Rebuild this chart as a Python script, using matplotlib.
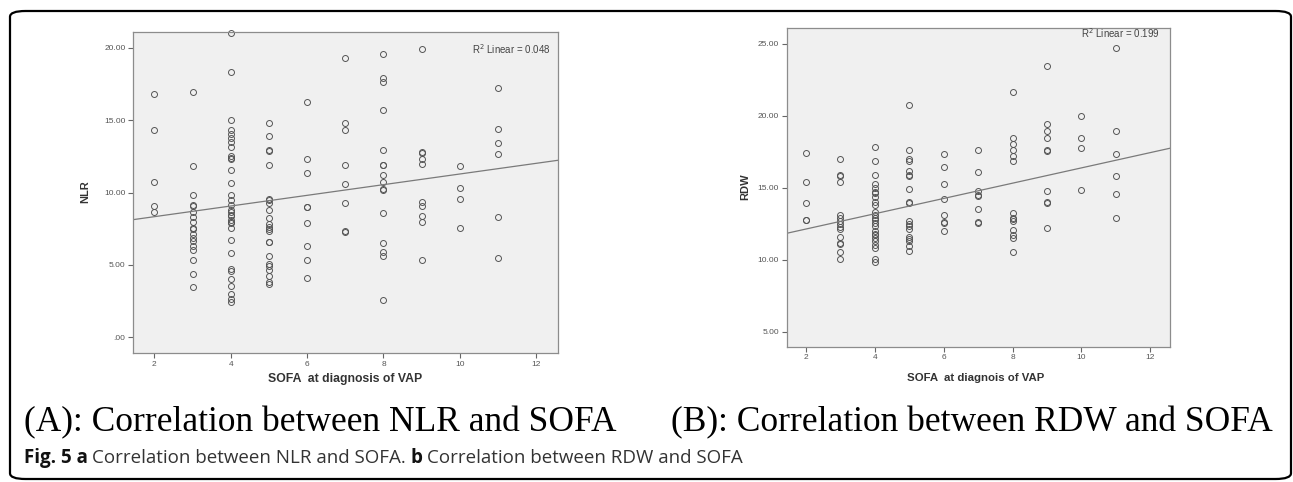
import numpy as np
import matplotlib.pyplot as plt
from matplotlib.patches import FancyBboxPatch

# SOFA score columns (same for both panels)
sofa_levels = [2, 3, 4, 5, 6, 7, 8, 9, 10, 11]

# NLR values read per SOFA column
nlr_groups = [
    [16.83, 14.29, 10.75, 9.05, 8.66],
    [16.96, 11.8, 9.81, 9.12, 9.05, 8.63, 8.31, 7.94, 7.57, 7.48, 7.15, 6.83, 6.62, 6.32, 6.0, 5.33, 4.34, 3.44],
    [21.05, 18.35, 15.03, 14.31, 14.06, 13.8, 13.52, 13.16, 12.51, 12.4, 12.33, 11.54, 10.66, 9.85, 9.46, 9.16,
     8.82, 8.68, 8.47, 8.4, 8.12, 7.94, 7.9, 7.52, 6.74, 5.82, 4.71, 4.59, 4.02, 3.55, 2.95, 2.65, 2.42],
    [14.79, 13.89, 12.92, 12.85, 11.93, 9.56, 9.45, 9.3, 8.82, 8.24, 7.85, 7.6, 7.45, 7.31, 6.58, 6.55,
     5.58, 5.05, 4.9, 4.61, 4.22, 3.83, 3.67],
    [16.27, 12.35, 11.33, 9.02, 8.98, 7.89, 6.30, 5.33, 4.06],
    [19.32, 14.82, 14.33, 11.91, 10.57, 9.25, 7.34, 7.30],
    [19.57, 17.94, 17.63, 15.72, 12.95, 11.91, 11.87, 11.24, 10.76, 10.25, 10.18, 8.56, 6.53, 5.89, 5.61, 2.58],
    [19.92, 12.83, 12.75, 12.33, 12.0, 9.32, 9.04, 8.35, 7.94, 5.33],
    [11.82, 10.32, 9.58, 7.55],
    [17.24, 14.38, 13.39, 12.69, 8.33, 5.44],
]

# RDW values read per SOFA column
rdw_groups = [
    [17.43, 15.42, 13.92, 12.79, 12.74],
    [17.0, 15.91, 15.83, 15.42, 13.11, 12.88, 12.72, 12.49, 12.30, 12.16, 11.57, 11.19, 11.12, 10.55, 10.04],
    [17.81, 16.88, 15.89, 15.26, 15.01, 14.73, 14.66, 14.38, 14.04, 13.81, 13.34, 13.11, 12.88, 12.75, 12.54,
     12.35, 12.03, 11.77, 11.7, 11.50, 11.29, 11.05, 10.80, 10.04, 9.83],
    [20.72, 17.62, 16.98, 16.85, 16.19, 15.91, 15.8, 14.94, 14.02, 13.95, 12.72, 12.49, 12.35, 12.12, 11.61,
     11.43, 11.29, 10.96, 10.64],
    [17.32, 16.44, 15.24, 14.22, 13.11, 12.65, 12.55, 12.03],
    [17.62, 16.07, 14.78, 14.50, 14.42, 13.55, 12.65, 12.58],
    [21.62, 18.45, 18.04, 17.60, 17.23, 16.84, 13.23, 12.91, 12.82, 12.70, 12.07, 11.73, 11.52, 10.53],
    [23.42, 19.42, 18.92, 18.43, 17.62, 17.58, 14.76, 14.02, 13.96, 12.21],
    [20.0, 18.43, 17.74, 14.85],
    [24.69, 18.92, 17.34, 15.84, 14.57, 12.93],
]

# linear fit lines as shown by SPSS (slope, intercept)
nlr_fit = (0.369, 7.59)
rdw_fit = (0.530, 11.08)

x_ticks = [2, 4, 6, 8, 10, 12]
nlr_ticks = [0, 5, 10, 15, 20]
nlr_tick_labels = ['.00', '5.00', '10.00', '15.00', '20.00']
rdw_ticks = [5, 10, 15, 20, 25]
rdw_tick_labels = ['5.00', '10.00', '15.00', '20.00', '25.00']

# figure caption pieces: (text, bold?)
caption_parts = [('Fig. 5 a', True), ('Correlation between NLR and SOFA.', False),
                 ('b', True), ('Correlation between RDW and SOFA', False)]

W, H = 1293, 482
fig = plt.figure(figsize=(W / 100, H / 100), dpi=100)


def px(x, y):
    # pixel position (from top-left) -> figure fraction
    return x / W, 1 - y / H


def scatter_panel(rect, groups, fit, yticks, ylabels, ylim, r2_text, r2_pos):
    ax = fig.add_axes(rect)
    xs = np.concatenate([[s] * len(g) for s, g in zip(sofa_levels, groups)])
    ys = np.concatenate(groups)
    ax.set_facecolor('#f0f0f0')
    ax.plot(xs, ys, 'o', mfc='none', mec='#555555', mew=0.7, ms=4.3, clip_on=False)
    xlim = (1.44, 12.57)
    xl = np.array(xlim)
    ax.plot(xl, fit[0] * xl + fit[1], color='#7a7a7a', lw=0.9)
    ax.set_xlim(*xlim)
    ax.set_ylim(*ylim)
    ax.set_xticks(x_ticks)
    ax.set_yticks(yticks)
    ax.set_yticklabels(ylabels)
    ax.tick_params(direction='out', length=3.5, width=0.8, color='#666666',
                   labelsize=6, labelcolor='#555555', pad=2)
    for lab in ax.get_xticklabels() + ax.get_yticklabels():
        lab.set_family('Liberation Sans')
    for sp in ax.spines.values():
        sp.set_color('#8c8c8c')
        sp.set_linewidth(0.9)
    ax.text(r2_pos[0], r2_pos[1], r2_text, transform=ax.transAxes, ha='right', va='center',
            fontsize=7, color='#444444', family='Liberation Sans')
    return ax


# panel A
l, b = 133 / W, 1 - 353 / H
scatter_panel([l, b, 425 / W, 321 / H], nlr_groups, nlr_fit, nlr_ticks, nlr_tick_labels,
              (-1.1, 21.1), 'R$^2$ Linear = 0.048', (0.983, 0.947))
# panel B
l, b = 786.7 / W, 1 - 346.7 / H
scatter_panel([l, b, 383.3 / W, 319 / H], rdw_groups, rdw_fit, rdw_ticks, rdw_tick_labels,
              (3.98, 26.1), 'R$^2$ Linear = 0.199', (0.974, 0.983))

lab_kw = dict(fontweight='bold', color='#333333', family='Liberation Sans', ha='center', va='center')
fig.text(*px(85, 192), 'NLR', rotation=90, fontsize=8, **lab_kw)
fig.text(*px(745, 187), 'RDW', rotation=90, fontsize=8, **lab_kw)
fig.text(*px(345, 379), 'SOFA  at diagnosis of VAP', fontsize=8.8, **lab_kw)
fig.text(*px(976, 378), 'SOFA  at diagnois of VAP', fontsize=8.2, **lab_kw)

cap_kw = dict(fontsize=25.5, color='black', family='Liberation Serif', va='center', ha='left')
fig.text(*px(24, 423), '(A): Correlation between NLR and SOFA', **cap_kw)
fig.text(*px(671, 423), '(B): Correlation between RDW and SOFA', **cap_kw)

# journal caption with bold / regular runs placed one after another
renderer = fig.canvas.get_renderer()
xpos = 24
for txt, bold in caption_parts:
    t = fig.text(*px(xpos, 458), txt, fontsize=13.5, family='Open Sans', va='center', ha='left',
                 fontweight='bold' if bold else 'normal', color='#111111' if bold else '#333333')
    xpos = t.get_window_extent(renderer).x1 + 4.5

# rounded frame around the figure
frame = FancyBboxPatch((10 / W, 3 / H), 1281 / W, 468 / H,
                       boxstyle='round,pad=0,rounding_size=0.012',
                       transform=fig.transFigure, fill=False, ec='black', lw=1.6)
fig.patches.append(frame)

fig.savefig('out.png', dpi=100)
